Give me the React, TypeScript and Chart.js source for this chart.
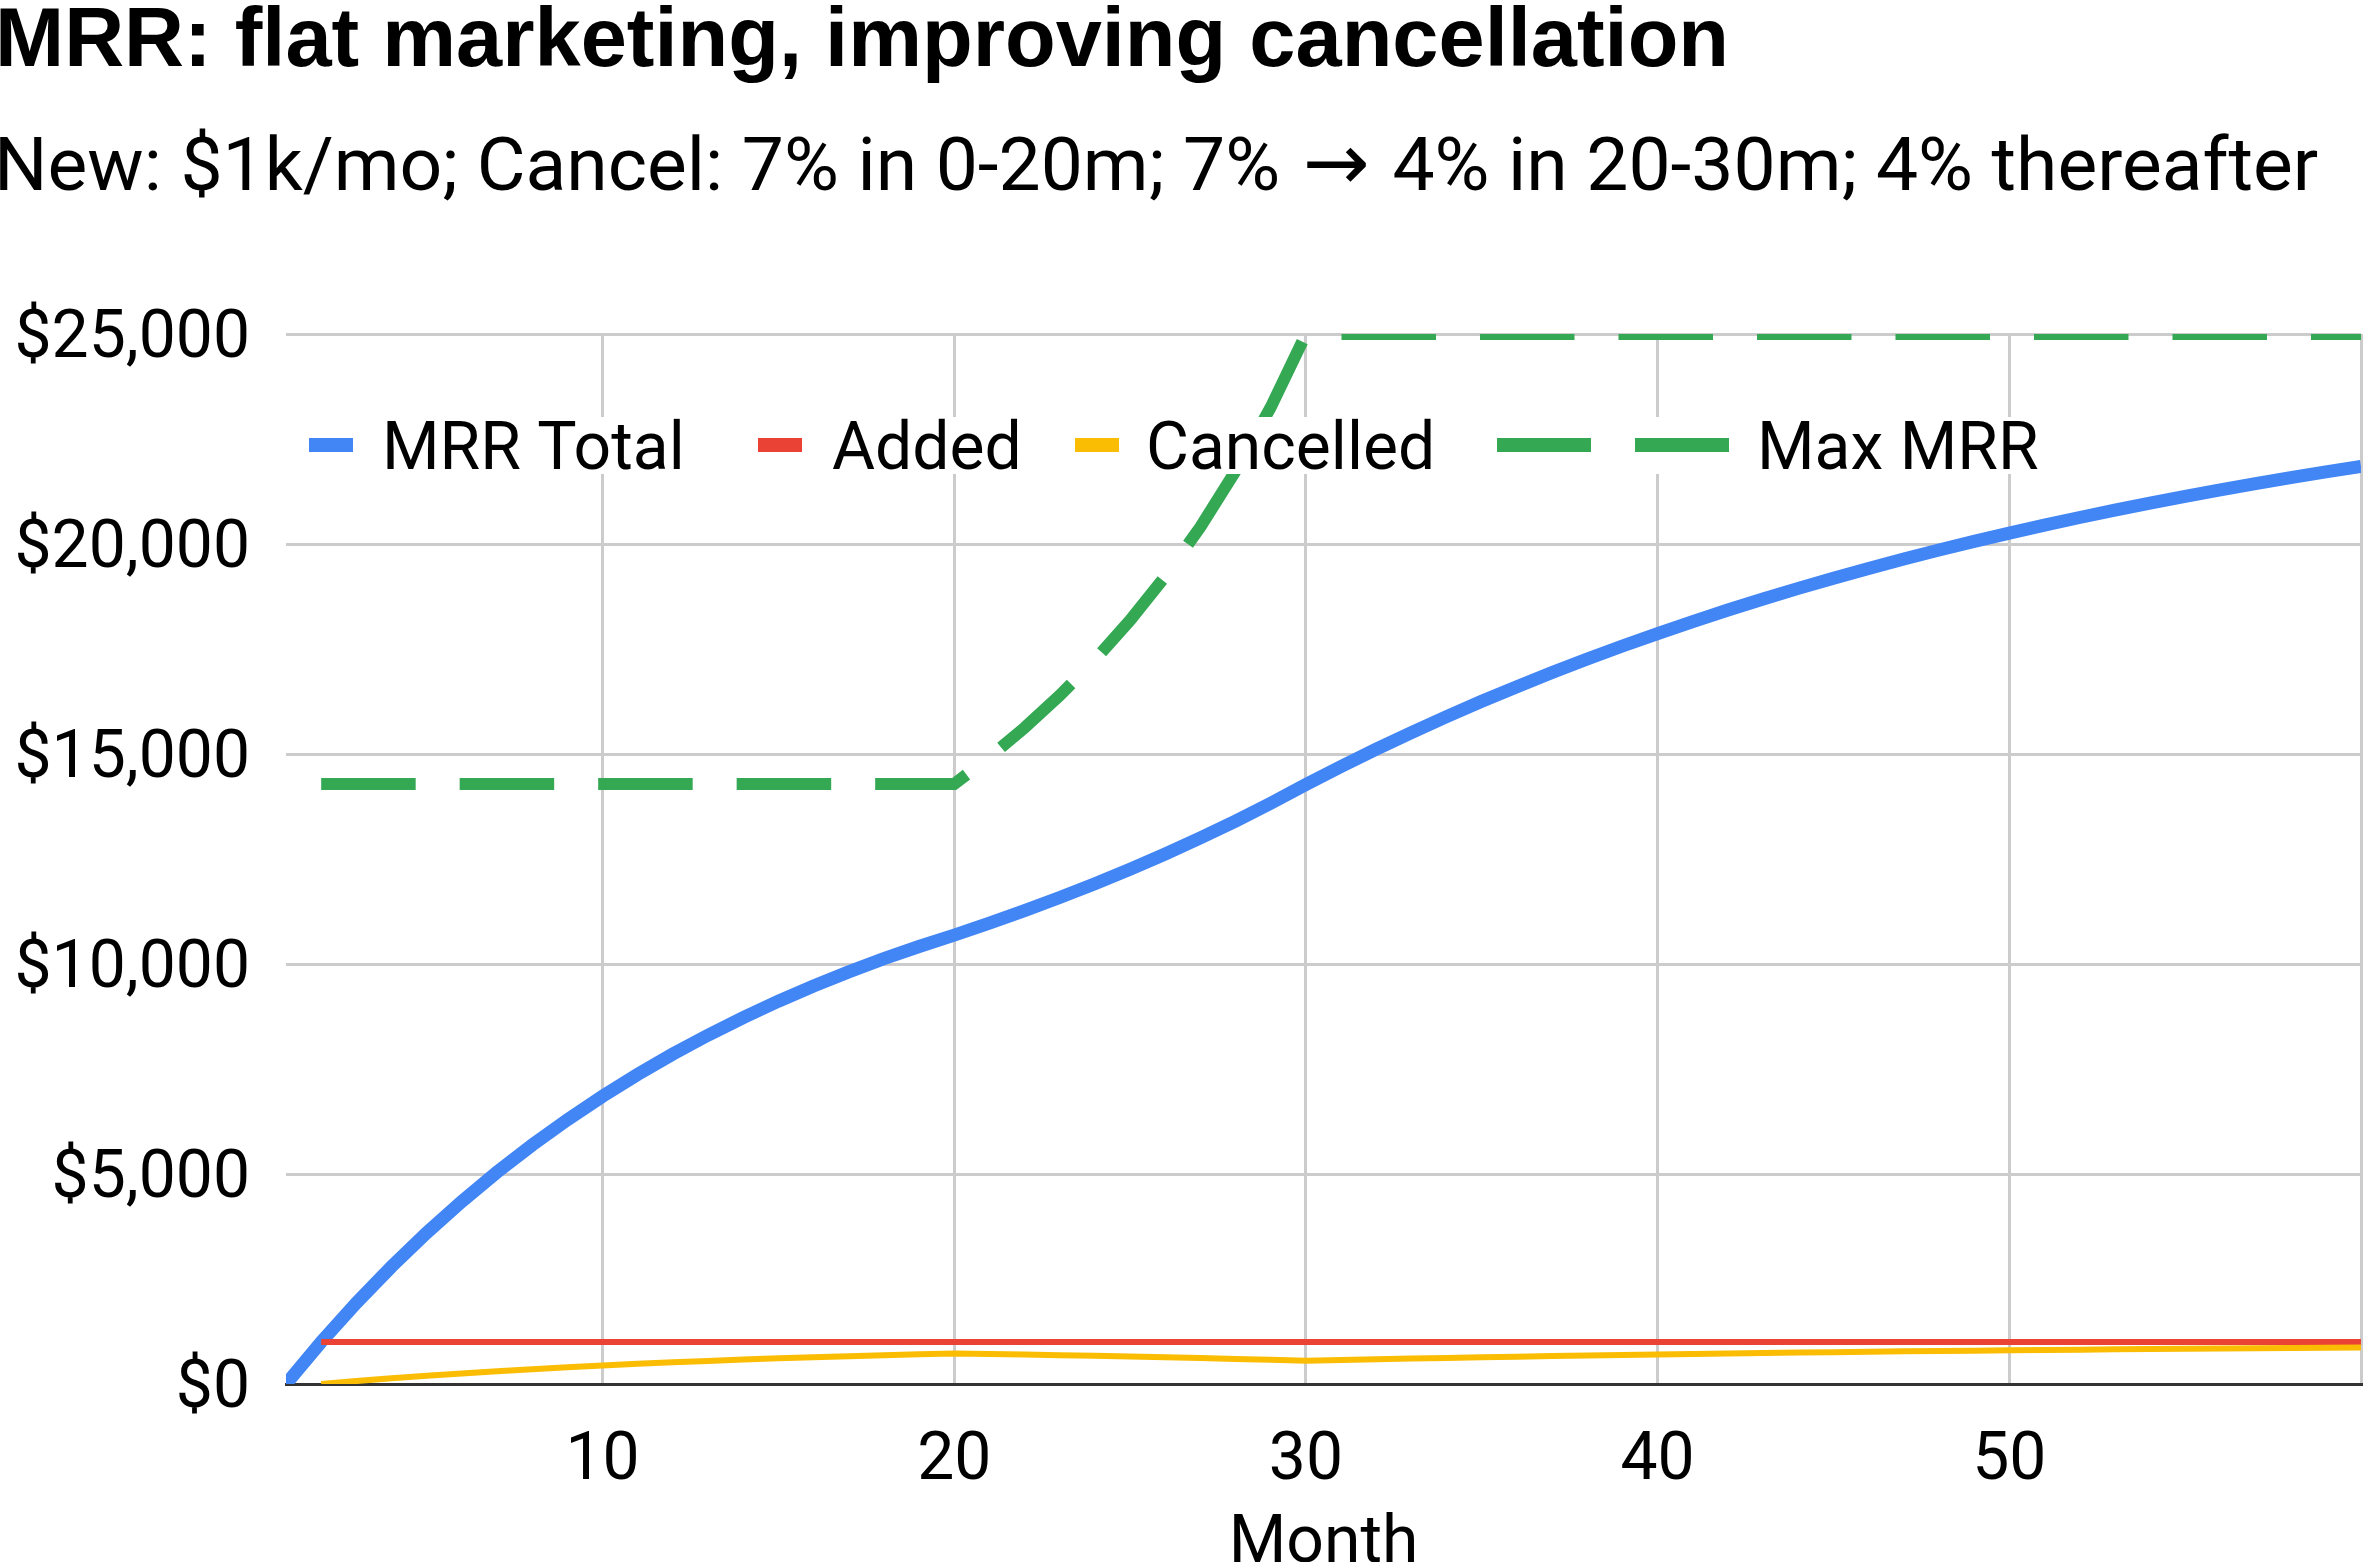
import React, { useEffect, useRef } from 'react';
import { Chart, registerables } from 'chart.js';

Chart.register(...registerables);

const TITLE = 'MRR: flat marketing, improving cancellation';
const SUBTITLE = 'New: $1k/mo; Cancel: 7% in 0-20m; 7% \u2192 4% in 20-30m; 4% thereafter';
const X_TITLE = 'Month';

const MONTHS = [
  1, 2, 3, 4, 5, 6, 7, 8, 9, 10, 11, 12, 13, 14, 15, 16, 17, 18, 19, 20,
  21, 22, 23, 24, 25, 26, 27, 28, 29, 30, 31, 32, 33, 34, 35, 36, 37, 38, 39, 40,
  41, 42, 43, 44, 45, 46, 47, 48, 49, 50, 51, 52, 53, 54, 55, 56, 57, 58, 59, 60,
];

const MRR_TOTAL = [
  0, 1000, 1930, 2795, 3599, 4347, 5043, 5690, 6292, 6851, 7372, 7856, 8306, 8724, 9114, 9476, 9812, 10126, 10417, 10688,
  10972, 11270, 11583, 11911, 12256, 12619, 13001, 13403, 13827, 14274,
  14703, 15115, 15510, 15890, 16254, 16604, 16940, 17262, 17572, 17869,
  18154, 18428, 18691, 18943, 19186, 19418, 19641, 19856, 20062, 20259,
  20449, 20631, 20806, 20973, 21134, 21289, 21437, 21580, 21717, 21848,
];

const ADDED = [
  null, 1000, 1000, 1000, 1000, 1000, 1000, 1000, 1000, 1000, 1000, 1000, 1000, 1000, 1000, 1000, 1000, 1000, 1000, 1000,
  1000, 1000, 1000, 1000, 1000, 1000, 1000, 1000, 1000, 1000, 1000, 1000, 1000, 1000, 1000, 1000, 1000, 1000, 1000, 1000,
  1000, 1000, 1000, 1000, 1000, 1000, 1000, 1000, 1000, 1000, 1000, 1000, 1000, 1000, 1000, 1000, 1000, 1000, 1000, 1000,
];

const CANCELLED = [
  null, 0, 70, 135, 196, 252, 304, 353, 398, 440, 480, 516, 550, 581, 611, 638, 663, 687, 709, 729,
  716, 702, 687, 672, 655, 637, 618, 598, 576, 553,
  571, 588, 605, 620, 636, 650, 664, 678, 690, 703,
  715, 726, 737, 748, 758, 767, 777, 786, 794, 802,
  810, 818, 825, 832, 839, 845, 851, 857, 863, 869,
];

const MAX_MRR = [
  null, 14286, 14286, 14286, 14286, 14286, 14286, 14286, 14286, 14286, 14286, 14286, 14286, 14286, 14286, 14286, 14286, 14286, 14286, 14286,
  14925, 15625, 16393, 17241, 18182, 19231, 20408, 21739, 23256, 25000,
  25000, 25000, 25000, 25000, 25000, 25000, 25000, 25000, 25000, 25000,
  25000, 25000, 25000, 25000, 25000, 25000, 25000, 25000, 25000, 25000,
  25000, 25000, 25000, 25000, 25000, 25000, 25000, 25000, 25000, 25000,
];

const SERIES_NAMES = ['MRR Total', 'Added', 'Cancelled', 'Max MRR'];
const SERIES_COLORS = ['#4285F4', '#EA4335', '#FBBC04', '#34A853'];

const X_TICKS = [10, 20, 30, 40, 50, 60];
const X_LABELED = [10, 20, 30, 40, 50];
const Y_TICKS = [0, 5000, 10000, 15000, 20000, 25000];

const FONT = 'Roboto';
const TITLE_FONT = '"Liberation Sans", Arial, sans-serif';
const ARROW_FONT = '"DejaVu Sans"';
const ARROW = '\u2192';

// legend layout (pixels)
const LEGEND_MARKER_X = [309, 758, 1075, 1497];
const LEGEND_TEXT_X = [382, 832, 1146, 1757];

const pts = (vals: (number | null)[]) => MONTHS.map((m, i) => ({ x: m, y: vals[i] }));

const textPlugin = {
  id: 'textPlugin',
  afterDraw(chart: any) {
    const ctx = chart.ctx as CanvasRenderingContext2D;
    ctx.save();
    ctx.fillStyle = '#000000';
    ctx.textAlign = 'left';
    ctx.textBaseline = 'alphabetic';
    ctx.font = `bold 83px ${TITLE_FONT}`;
    ctx.fillText(TITLE, -5, 66);

    // subtitle: Roboto text with a wider arrow glyph
    const parts = SUBTITLE.split(ARROW);
    let sx = -6;
    ctx.font = `75px ${FONT}`;
    ctx.fillText(parts[0], sx, 190);
    sx += ctx.measureText(parts[0]).width;
    const arrowAdv = ctx.measureText(ARROW).width;
    ctx.font = `80px ${ARROW_FONT}`;
    ctx.textAlign = 'center';
    ctx.fillText(ARROW, sx + arrowAdv / 2, 190);
    ctx.textAlign = 'left';
    sx += arrowAdv;
    ctx.font = `75px ${FONT}`;
    ctx.fillText(parts[1], sx, 190);

    // legend
    ctx.font = `66px ${FONT}`;
    const cy = 445;
    SERIES_NAMES.forEach((name, i) => {
      const dashed = i === 3;
      const mx = LEGEND_MARKER_X[i];
      const tx = LEGEND_TEXT_X[i];
      const tw = ctx.measureText(name).width;
      ctx.fillStyle = '#ffffff';
      ctx.fillRect(mx - 2, 417, tx + tw - mx + 6, 57);
      ctx.fillStyle = SERIES_COLORS[i];
      if (dashed) {
        ctx.fillRect(mx, cy - 7, 94, 14);
        ctx.fillRect(mx + 138, cy - 7, 94, 14);
      } else {
        ctx.fillRect(mx, cy - 7, 44, 14);
      }
      ctx.fillStyle = '#000000';
      ctx.fillText(name, tx, 469);
    });
    ctx.restore();
  },
};

function App() {
  const ref = useRef<HTMLCanvasElement | null>(null);

  useEffect(() => {
    document.body.style.margin = '0';
    const canvas = ref.current;
    if (!canvas) return;
    const chart = new Chart(canvas, {
      type: 'line',
      data: {
        datasets: [
          {
            label: SERIES_NAMES[0],
            data: pts(MRR_TOTAL),
            borderColor: SERIES_COLORS[0],
            backgroundColor: SERIES_COLORS[0],
            borderWidth: 13,
            pointRadius: 0,
            tension: 0,
            order: 3,
          },
          {
            label: SERIES_NAMES[1],
            data: pts(ADDED),
            borderColor: SERIES_COLORS[1],
            backgroundColor: SERIES_COLORS[1],
            borderWidth: 6,
            pointRadius: 0,
            tension: 0,
            order: 2,
          },
          {
            label: SERIES_NAMES[2],
            data: pts(CANCELLED),
            borderColor: SERIES_COLORS[2],
            backgroundColor: SERIES_COLORS[2],
            borderWidth: 6,
            pointRadius: 0,
            tension: 0,
            order: 1,
          },
          {
            label: SERIES_NAMES[3],
            data: pts(MAX_MRR),
            borderColor: SERIES_COLORS[3],
            backgroundColor: SERIES_COLORS[3],
            borderWidth: 12,
            borderDash: [94.5, 44],
            pointRadius: 0,
            tension: 0,
            order: 0,
          },
        ],
      },
      options: {
        responsive: false,
        animation: false,
        events: [],
        layout: { padding: { left: 0, top: 334, right: 4, bottom: 0 } },
        plugins: {
          legend: { display: false },
          title: { display: false },
          tooltip: { enabled: false },
        },
        scales: {
          x: {
            type: 'linear',
            min: 1,
            max: 60,
            afterBuildTicks: (scale: any) => {
              scale.ticks = X_TICKS.map((v) => ({ value: v }));
            },
            afterFit: (scale: any) => {
              scale.height = 178;
              scale.paddingLeft = 0;
              scale.paddingRight = 0;
            },
            grid: {
              color: '#cccccc',
              lineWidth: 3,
              drawTicks: false,
            },
            border: { display: true, color: '#333333', width: 3 },
            ticks: {
              padding: 0,
              color: '#000000',
              font: { family: FONT, size: 66, lineHeight: '157px' },
              maxRotation: 0,
              autoSkip: false,
              callback: (v: any) => (X_LABELED.includes(Number(v)) ? String(v) : ''),
            },
            title: {
              display: true,
              text: X_TITLE,
              color: '#000000',
              font: { family: FONT, size: 66, lineHeight: '33px' },
              padding: 0,
            },
          },
          y: {
            type: 'linear',
            min: 0,
            max: 25000,
            afterBuildTicks: (scale: any) => {
              scale.ticks = Y_TICKS.map((v) => ({ value: v }));
            },
            afterFit: (scale: any) => {
              scale.width = 286;
            },
            grid: {
              color: (c: any) => (c.tick && c.tick.value === 0 ? 'rgba(0,0,0,0)' : '#cccccc'),
              lineWidth: 3,
              drawTicks: false,
            },
            border: { display: false },
            ticks: {
              padding: 36,
              labelOffset: 6,
              color: '#000000',
              font: { family: FONT, size: 66 },
              callback: (v: any) => '$' + Number(v).toLocaleString('en-US'),
            },
          },
        },
      },
      plugins: [textPlugin],
    });
    return () => chart.destroy();
  }, []);

  return (
    <div style={{ position: 'absolute', left: 0, top: 0, width: 2365, height: 1562, background: '#ffffff' }}>
      <canvas ref={ref} width={2365} height={1562} style={{ display: 'block' }} />
    </div>
  );
}

export default App;
